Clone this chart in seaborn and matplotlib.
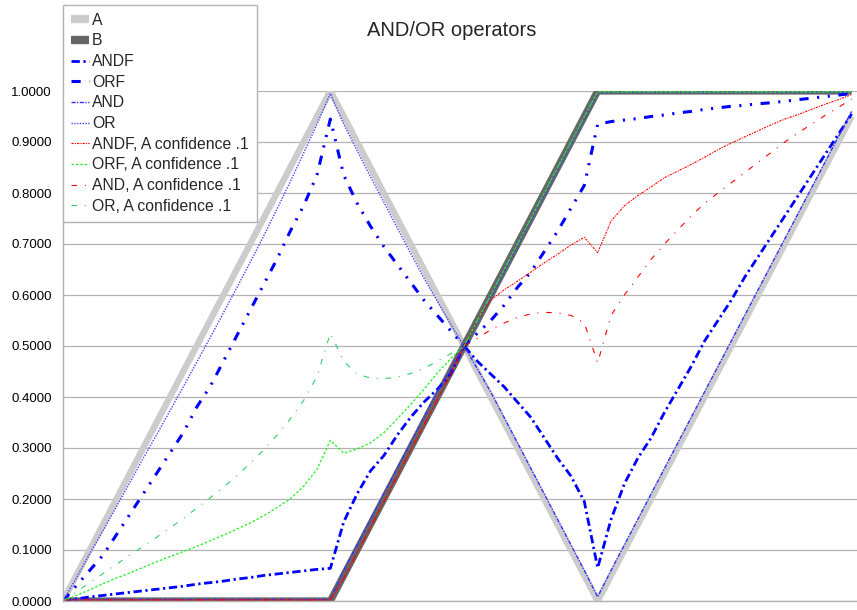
import matplotlib
matplotlib.use('Agg')
import matplotlib.pyplot as plt
from matplotlib.lines import Line2D
from matplotlib.ticker import FormatStrFormatter
import seaborn as sns

sns.set_theme(style='white')
plt.rcParams['font.family'] = ['Liberation Sans', 'DejaVu Sans']

# x positions: 60 samples
steps = list(range(60))

A = [0.00, 0.05, 0.10, 0.15, 0.20, 0.25, 0.30, 0.35, 0.40, 0.45, 0.50,
     0.55, 0.60, 0.65, 0.70, 0.75, 0.80, 0.85, 0.90, 0.95, 1.00,
     0.95, 0.90, 0.85, 0.80, 0.75, 0.70, 0.65, 0.60, 0.55, 0.50,
     0.45, 0.40, 0.35, 0.30, 0.25, 0.20, 0.15, 0.10, 0.05, 0.00,
     0.05, 0.10, 0.15, 0.20, 0.25, 0.30, 0.35, 0.40, 0.45, 0.50,
     0.55, 0.60, 0.65, 0.70, 0.75, 0.80, 0.85, 0.90, 0.95]
B = [0.00, 0.00, 0.00, 0.00, 0.00, 0.00, 0.00, 0.00, 0.00, 0.00, 0.00,
     0.00, 0.00, 0.00, 0.00, 0.00, 0.00, 0.00, 0.00, 0.00, 0.00,
     0.05, 0.10, 0.15, 0.20, 0.25, 0.30, 0.35, 0.40, 0.45, 0.50,
     0.55, 0.60, 0.65, 0.70, 0.75, 0.80, 0.85, 0.90, 0.95, 1.00,
     1.00, 1.00, 1.00, 1.00, 1.00, 1.00, 1.00, 1.00, 1.00, 1.00,
     1.00, 1.00, 1.00, 1.00, 1.00, 1.00, 1.00, 1.00, 1.00]
ANDF = [0.000, 0.004, 0.008, 0.011, 0.014, 0.017, 0.020, 0.023, 0.026, 0.029, 0.033,
        0.036, 0.039, 0.043, 0.046, 0.050, 0.053, 0.056, 0.059, 0.062, 0.064,
        0.155, 0.210, 0.255, 0.285, 0.325, 0.360, 0.390, 0.415, 0.445, 0.500,
        0.470, 0.445, 0.420, 0.390, 0.360, 0.320, 0.280, 0.245, 0.195, 0.065,
        0.160, 0.230, 0.280, 0.320, 0.370, 0.415, 0.460, 0.510, 0.550, 0.590,
        0.635, 0.675, 0.715, 0.755, 0.795, 0.835, 0.875, 0.915, 0.955]
ORF = [0.000, 0.030, 0.060, 0.090, 0.130, 0.170, 0.210, 0.250, 0.290, 0.330, 0.380,
       0.420, 0.470, 0.520, 0.570, 0.620, 0.670, 0.725, 0.775, 0.835, 0.945,
       0.835, 0.780, 0.735, 0.695, 0.660, 0.625, 0.590, 0.560, 0.530, 0.500,
       0.525, 0.550, 0.580, 0.615, 0.645, 0.685, 0.725, 0.770, 0.815, 0.935,
       0.940, 0.943, 0.946, 0.950, 0.953, 0.957, 0.960, 0.964, 0.967, 0.970,
       0.972, 0.975, 0.977, 0.980, 0.983, 0.986, 0.989, 0.992, 0.995]
AND = [0.003, 0.003, 0.003, 0.003, 0.003, 0.003, 0.003, 0.003, 0.003, 0.003, 0.003,
       0.003, 0.003, 0.003, 0.003, 0.003, 0.003, 0.003, 0.003, 0.003, 0.003,
       0.060, 0.110, 0.160, 0.210, 0.260, 0.310, 0.360, 0.410, 0.455, 0.500,
       0.455, 0.410, 0.360, 0.310, 0.260, 0.210, 0.160, 0.110, 0.060, 0.008,
       0.060, 0.110, 0.160, 0.210, 0.260, 0.310, 0.360, 0.410, 0.460, 0.510,
       0.560, 0.610, 0.660, 0.710, 0.760, 0.810, 0.860, 0.910, 0.960]
OR = [0.000, 0.045, 0.093, 0.138, 0.185, 0.232, 0.280, 0.326, 0.373, 0.420, 0.468,
      0.516, 0.565, 0.614, 0.664, 0.715, 0.768, 0.822, 0.878, 0.935, 0.995,
      0.935, 0.883, 0.832, 0.782, 0.732, 0.682, 0.633, 0.588, 0.543, 0.500,
      0.545, 0.595, 0.645, 0.695, 0.745, 0.795, 0.845, 0.895, 0.945, 0.995,
      0.997, 0.997, 0.997, 0.997, 0.997, 0.997, 0.997, 0.997, 0.997, 0.997,
      0.997, 0.997, 0.997, 0.997, 0.997, 0.997, 0.997, 0.997, 0.997]
ANDF_conf = [0.002, 0.002, 0.002, 0.002, 0.002, 0.002, 0.002, 0.002, 0.002, 0.002, 0.002,
             0.002, 0.002, 0.002, 0.002, 0.002, 0.002, 0.002, 0.002, 0.002, 0.002,
             0.045, 0.095, 0.145, 0.195, 0.245, 0.295, 0.345, 0.395, 0.445, 0.500,
             0.550, 0.590, 0.610, 0.627, 0.645, 0.663, 0.680, 0.698, 0.713, 0.683,
             0.745, 0.775, 0.795, 0.812, 0.830, 0.843, 0.856, 0.870, 0.885, 0.898,
             0.910, 0.922, 0.934, 0.945, 0.954, 0.964, 0.974, 0.983, 0.993]
ORF_conf = [0.000, 0.011, 0.022, 0.034, 0.045, 0.055, 0.066, 0.077, 0.087, 0.097, 0.107,
            0.118, 0.129, 0.141, 0.153, 0.167, 0.183, 0.200, 0.225, 0.258, 0.315,
            0.290, 0.298, 0.310, 0.330, 0.357, 0.385, 0.415, 0.447, 0.475, 0.500,
            0.550, 0.600, 0.650, 0.700, 0.750, 0.800, 0.850, 0.900, 0.950, 0.998,
            0.998, 0.998, 0.998, 0.998, 0.998, 0.998, 0.998, 0.998, 0.998, 0.998,
            0.998, 0.998, 0.998, 0.998, 0.998, 0.998, 0.998, 0.998, 0.998]
AND_conf = [0.002, 0.002, 0.002, 0.002, 0.002, 0.002, 0.002, 0.002, 0.002, 0.002, 0.002,
            0.002, 0.002, 0.002, 0.002, 0.002, 0.002, 0.002, 0.002, 0.002, 0.002,
            0.045, 0.095, 0.145, 0.195, 0.245, 0.295, 0.345, 0.395, 0.445, 0.500,
            0.515, 0.532, 0.545, 0.556, 0.563, 0.566, 0.565, 0.560, 0.545, 0.467,
            0.560, 0.600, 0.635, 0.670, 0.700, 0.728, 0.755, 0.780, 0.800, 0.820,
            0.840, 0.860, 0.880, 0.900, 0.918, 0.935, 0.952, 0.968, 0.984]
OR_conf = [0.000, 0.018, 0.036, 0.054, 0.072, 0.090, 0.107, 0.125, 0.143, 0.162, 0.182,
           0.202, 0.223, 0.245, 0.270, 0.296, 0.325, 0.357, 0.393, 0.440, 0.525,
           0.470, 0.445, 0.437, 0.436, 0.439, 0.446, 0.456, 0.470, 0.485, 0.500,
           0.550, 0.600, 0.650, 0.700, 0.750, 0.800, 0.850, 0.900, 0.950, 1.000,
           1.000, 1.000, 1.000, 1.000, 1.000, 1.000, 1.000, 1.000, 1.000, 1.000,
           1.000, 1.000, 1.000, 1.000, 1.000, 1.000, 1.000, 1.000, 1.000]

names = ['A', 'B', 'ANDF', 'ORF', 'AND', 'OR',
         'ANDF, A confidence .1', 'ORF, A confidence .1',
         'AND, A confidence .1', 'OR, A confidence .1']
values = [A, B, ANDF, ORF, AND, OR, ANDF_conf, ORF_conf, AND_conf, OR_conf]

# look of each series: colour, width (pt), line style
looks = [
    ('#cccccc', 4.6, '-'),
    ('#666666', 5.2, '-'),
    ('#0000ff', 2.0, (0, (3.0, 1.3, 0.8, 1.3))),
    ('#0000ff', 2.2, (0, (3.0, 2.8, 0.7, 2.8, 0.7, 2.8))),
    ('#3333ff', 1.0, (0, (3, 1, 1, 1))),
    ('#4444ff', 1.0, (0, (1, 1))),
    ('#ff0000', 0.8, (0, (2, 1, 1, 1))),
    ('#22ee22', 0.9, (0, (2, 1.5))),
    ('#ff0000', 0.8, (0, (5, 7, 1, 7))),
    ('#33cc66', 0.8, (0, (5, 7, 1, 7))),
]

fig = plt.figure(figsize=(8.57, 6.10), dpi=100)
ax = fig.add_axes([63 / 857, 1 - 601 / 610, 1 - 63 / 857, 510 / 610])

for name, vals, (col, lw, ls) in zip(names, values, looks):
    sns.lineplot(x=steps, y=vals, ax=ax, color=col, linewidth=lw,
                 linestyle=ls, legend=False,
                 solid_capstyle='butt', solid_joinstyle='miter')

ax.set_xlim(0, 59.4)
ax.set_ylim(0, 1.0)
ax.set_xticks(steps)
ax.set_xticklabels([])
ax.set_yticks([i / 10 for i in range(11)])
ax.yaxis.set_major_formatter(FormatStrFormatter('%.4f'))
ax.tick_params(axis='x', length=3.5, color='#b3b3b3', width=0.8, direction='out')
ax.tick_params(axis='y', length=0, labelsize=9.5, pad=8, labelcolor='#000000')
ax.grid(axis='y', color='#b3b3b3', linewidth=0.9)
ax.set_axisbelow(True)
for s in ['top', 'right']:
    ax.spines[s].set_visible(False)
for s in ['left', 'bottom']:
    ax.spines[s].set_color('#b3b3b3')
    ax.spines[s].set_linewidth(1.0)
ax.set_xlabel('')
ax.set_ylabel('')

fig.text(452 / 857, 1 - 30 / 610, 'AND/OR operators', ha='center', va='center',
         fontsize=14.5)

handles = [Line2D([], [], color=c, linewidth=(6 if i < 2 else lw),
                  linestyle=ls, solid_capstyle='butt')
           for i, (c, lw, ls) in enumerate(looks)]
leg = fig.legend(handles, names, loc='upper left',
                 bbox_to_anchor=(63 / 857, 1 - 5 / 610),
                 fontsize=11.3, frameon=True, fancybox=False,
                 edgecolor='#b3b3b3', framealpha=1, handlelength=1.15,
                 handletextpad=0.2, labelspacing=0.36, borderpad=0.5,
                 borderaxespad=0)
leg.get_frame().set_linewidth(1.0)

fig.savefig('out.png', dpi=100)
